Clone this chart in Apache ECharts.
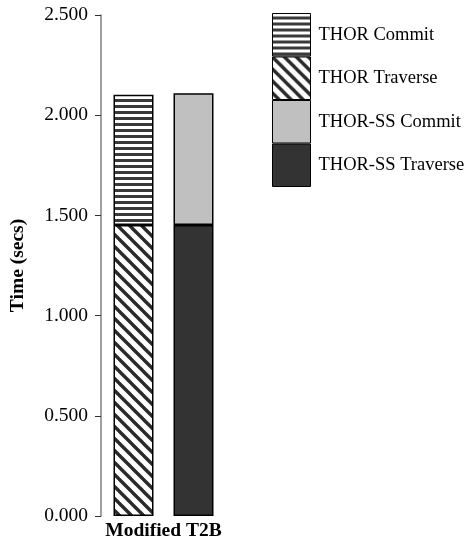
<!DOCTYPE html>
<html>
<head>
<meta charset="utf-8">
<script src="https://cdn.jsdelivr.net/npm/echarts@6/dist/echarts.min.js"></script>
<style>
html,body{margin:0;padding:0;background:#fff;}
#c{width:469px;height:548px;}
</style>
</head>
<body>
<div id="c"></div>
<script>
const categories = ['Modified T2B'];
const seriesNames = ['THOR Commit', 'THOR Traverse', 'THOR-SS Commit', 'THOR-SS Traverse'];
const thorTraverse = [1.452];
const thorCommit = [0.650];
const thorSSTraverse = [1.452];
const thorSSCommit = [0.657];
const yTicks = [0, 0.5, 1.0, 1.5, 2.0, 2.5];

function stripes() {
  const c = document.createElement('canvas');
  c.width = 6; c.height = 6;
  const g = c.getContext('2d');
  g.fillStyle = '#ffffff'; g.fillRect(0, 0, 6, 6);
  g.fillStyle = '#3a3a3a'; g.fillRect(0, 3, 6, 3);
  return c;
}
function diag() {
  const c = document.createElement('canvas');
  c.width = 12; c.height = 12;
  const g = c.getContext('2d');
  g.fillStyle = '#ffffff'; g.fillRect(0, 0, 12, 12);
  g.strokeStyle = '#2a2a2a'; g.lineWidth = 3.4;
  for (let k = -1; k <= 1; k++) {
    g.beginPath(); g.moveTo(k * 12 - 2, -2); g.lineTo(k * 12 + 14, 14); g.stroke();
  }
  return c;
}
const pStripes = { image: stripes(), repeat: 'repeat' };
const pDiag = { image: diag(), repeat: 'repeat' };
const border = { borderColor: '#000', borderWidth: 1.5 };

const chart = echarts.init(document.getElementById('c'), null, { renderer: 'canvas' });
const font = 'Liberation Serif';
chart.setOption({
  animation: false,
  grid: { left: 101, right: 243, top: 15, bottom: 32 },
  legend: {
    data: seriesNames,
    orient: 'vertical',
    left: 272, top: 13,
    padding: 0,
    itemWidth: 38, itemHeight: 42.5, itemGap: 0,
    icon: 'rect',
    itemStyle: { borderColor: '#000', borderWidth: 1 },
    textStyle: { fontFamily: font, fontSize: 18.5, color: '#000', padding: [0, 0, 0, 3] }
  },
  xAxis: {
    type: 'category',
    data: categories,
    axisLine: { show: false },
    axisTick: { show: false },
    axisLabel: { fontFamily: font, fontSize: 19.5, fontWeight: 'bold', color: '#000', margin: 5 }
  },
  yAxis: {
    type: 'value',
    min: 0, max: 2.5, interval: 0.5,
    name: 'Time (secs)',
    nameLocation: 'middle',
    nameGap: 73,
    nameTextStyle: { fontFamily: font, fontSize: 19.5, fontWeight: 'bold', color: '#000' },
    axisLine: { show: true, lineStyle: { color: '#808080', width: 1.5 } },
    axisTick: { show: true, length: 6, lineStyle: { color: '#333', width: 1 } },
    splitLine: { show: false },
    axisLabel: {
      fontFamily: font, fontSize: 19.5, color: '#000', margin: 13,
      formatter: v => v.toFixed(3)
    }
  },
  series: [
    { name: 'THOR Traverse', type: 'bar', stack: 'thor', data: thorTraverse, barWidth: 40, barGap: '50%',
      itemStyle: Object.assign({ color: pDiag }, border) },
    { name: 'THOR Commit', type: 'bar', stack: 'thor', data: thorCommit, barWidth: 40,
      itemStyle: Object.assign({ color: pStripes }, border) },
    { name: 'THOR-SS Traverse', type: 'bar', stack: 'ss', data: thorSSTraverse, barWidth: 40,
      itemStyle: Object.assign({ color: '#333333' }, border) },
    { name: 'THOR-SS Commit', type: 'bar', stack: 'ss', data: thorSSCommit, barWidth: 40,
      itemStyle: Object.assign({ color: '#c0c0c0' }, border) }
  ]
});
</script>
</body>
</html>
